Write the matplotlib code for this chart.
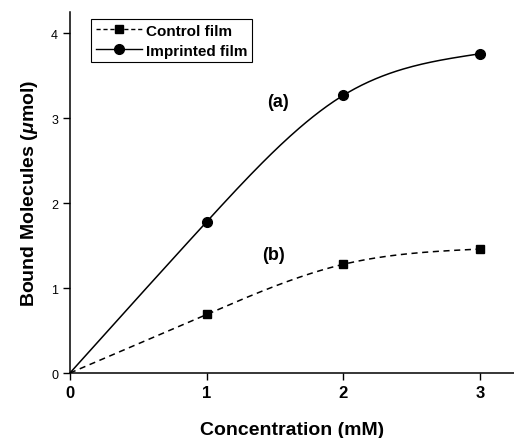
import numpy as np
import matplotlib.pyplot as plt
from matplotlib.lines import Line2D

conc = [0, 1, 2, 3]
control = [0, 0.69, 1.28, 1.46]
imprinted = [0, 1.78, 3.27, 3.76]

plt.rcParams['font.family'] = 'Liberation Sans'
plt.rcParams['mathtext.fontset'] = 'custom'
plt.rcParams['mathtext.it'] = 'Liberation Sans:italic:bold'
plt.rcParams['mathtext.rm'] = 'Liberation Sans:bold'

fig = plt.figure(figsize=(5.14, 4.39), dpi=100)
ax = fig.add_axes([0.136, 0.148, 0.864, 0.822])


def smooth(x, y, n=60):
    # natural cubic spline through the points (only for drawing the line)
    x = np.asarray(x, float)
    y = np.asarray(y, float)
    k = len(x)
    h = np.diff(x)
    A = np.zeros((k, k))
    r = np.zeros(k)
    A[0, 0] = A[-1, -1] = 1
    for i in range(1, k - 1):
        A[i, i - 1] = h[i - 1]
        A[i, i] = 2 * (h[i - 1] + h[i])
        A[i, i + 1] = h[i]
        r[i] = 6 * ((y[i + 1] - y[i]) / h[i] - (y[i] - y[i - 1]) / h[i - 1])
    M = np.linalg.solve(A, r)
    xs, ys = [], []
    for i in range(k - 1):
        t = np.linspace(x[i], x[i + 1], n)
        a = x[i + 1] - t
        b = t - x[i]
        s = (M[i] * a**3 + M[i + 1] * b**3) / (6 * h[i]) \
            + (y[i] / h[i] - M[i] * h[i] / 6) * a \
            + (y[i + 1] / h[i] - M[i + 1] * h[i] / 6) * b
        xs.append(t)
        ys.append(s)
    return np.concatenate(xs), np.concatenate(ys)


xs, ys = smooth(conc, imprinted)
ax.plot(xs, ys, color='black', lw=1.1)
ax.plot(conc[1:], imprinted[1:], 'o', color='black', ms=7)

xs, ys = smooth(conc, control)
ax.plot(xs, ys, color='black', lw=1.1, ls=(0, (4, 3)))
ax.plot(conc[1:], control[1:], 's', color='black', ms=6)

ax.text(1.52, 3.2, '(a)', fontsize=13, fontweight='bold', ha='center', va='center')
ax.text(1.49, 1.4, '(b)', fontsize=13, fontweight='bold', ha='center', va='center')

handles = [
    Line2D([], [], color='black', lw=1.0, ls=(0, (3, 2)), marker='s', ms=6),
    Line2D([], [], color='black', lw=1.0, marker='o', ms=7),
]
leg = ax.legend(handles, ['Control film', 'Imprinted film'], loc='upper left',
                bbox_to_anchor=(0.045, 0.985), prop={'weight': 'bold', 'size': 11},
                fancybox=False, edgecolor='black', framealpha=1,
                handlelength=3.0, handletextpad=0.3, borderpad=0.3,
                labelspacing=0.4, borderaxespad=0.1)
leg.get_frame().set_linewidth(0.8)

ax.set_xlim(0, 3.25)
ax.set_ylim(0, 4.25)
ax.set_xticks([0, 1, 2, 3])
ax.set_yticks([0, 1, 2, 3, 4])
ax.spines['top'].set_visible(False)
ax.spines['right'].set_visible(False)
ax.spines['left'].set_linewidth(1.1)
ax.spines['bottom'].set_linewidth(1.1)
ax.tick_params(axis='x', labelsize=12, direction='out', length=5, width=1)
ax.tick_params(axis='y', labelsize=9, direction='out', length=5, width=1)
for t in ax.get_xticklabels():
    t.set_fontweight('bold')

ax.set_xlabel('Concentration (mM)', fontsize=14, fontweight='bold', labelpad=15)
ax.set_ylabel(r'Bound Molecules ($\mu$mol)', fontsize=14, fontweight='bold', labelpad=8)

fig.savefig('out.png', dpi=100)
